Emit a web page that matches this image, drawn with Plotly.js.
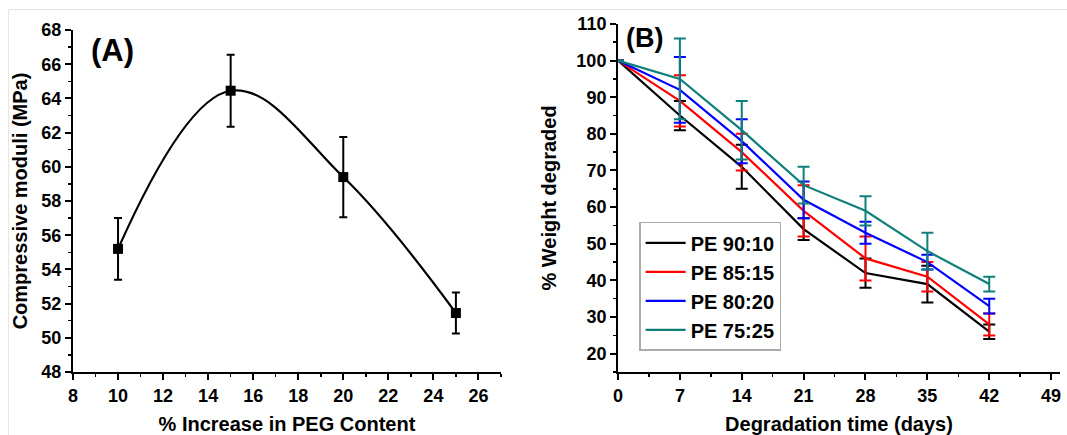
<!DOCTYPE html>
<html><head><meta charset="utf-8">
<script src="https://cdn.plot.ly/plotly-3.0.1.min.js"></script>
<style>html,body{margin:0;padding:0;background:#fff}#c{width:1067px;height:435px}</style>
</head><body><div id="c"></div>
<script>
// Panel A data
const pegContent = [10, 15, 20, 25];
const modulus = [55.2, 64.45, 59.4, 51.45];
const modulusErr = [1.8, 2.1, 2.35, 1.2];

// Panel B data
const days = [0, 7, 14, 21, 28, 35, 42];
const seriesNames = ["PE 90:10", "PE 85:15", "PE 80:20", "PE 75:25"];
const pe9010 = [100, 85, 71, 54, 42, 39, 26];
const pe9010Err = [0, 4, 6, 3, 4, 5, 2];
const pe8515 = [100, 89, 75, 59, 46, 41, 28];
const pe8515Err = [0, 7, 5, 7, 6, 4, 3];
const pe8020 = [100, 92, 78, 62, 53, 45, 33];
const pe8020Err = [0, 9, 6, 5, 3, 2, 2];
const pe7525 = [100, 95, 81, 66, 59, 48, 39];
const pe7525Err = [0, 11, 8, 5, 4, 5, 2];

const seriesColors = ["#000000", "#ff0000", "#0000ff", "#0f7f7a"];
const bValues = [pe9010, pe8515, pe8020, pe7525];
const bErrs = [pe9010Err, pe8515Err, pe8020Err, pe7525Err];

const F = "Liberation Sans, Arial, sans-serif";
const traces = [];
traces.push({
  x: pegContent, y: modulus, type: "scatter", mode: "lines+markers",
  line: {color: "#000", width: 2.2, shape: "spline", smoothing: 1.1},
  marker: {symbol: "square", size: 10, color: "#000"},
  error_y: {type: "data", array: modulusErr, visible: true, color: "#000", thickness: 2, width: 4},
  xaxis: "x", yaxis: "y", showlegend: false
});
for (let i = 0; i < 4; i++) {
  traces.push({
    x: days, y: bValues[i], type: "scatter", mode: "lines", name: seriesNames[i],
    line: {color: seriesColors[i], width: 2.2},
    error_y: {type: "data", array: bErrs[i], visible: true, color: seriesColors[i], thickness: 2, width: 6},
    xaxis: "x2", yaxis: "y2"
  });
}

const tickFont = {family: F, size: 18, color: "#000", weight: "bold"};
const titleFont = {family: F, size: 20, color: "#000", weight: "bold"};
const axBase = {
  showgrid: false, zeroline: false, showline: true, linecolor: "#000", linewidth: 2,
  ticks: "outside", ticklen: 6, tickwidth: 2, tickcolor: "#000", tickfont: tickFont,
  automargin: false, mirror: false
};

const layout = {
  width: 1067, height: 435,
  margin: {l: 0, r: 0, t: 0, b: 0},
  paper_bgcolor: "#fff", plot_bgcolor: "#fff",
  font: {family: F, color: "#000"},
  xaxis: Object.assign({}, axBase, {
    domain: [0.0684, 0.4695], range: [8, 27], tickmode: "array",
    tickvals: [8, 10, 12, 14, 16, 18, 20, 22, 24, 26],
    minor: {dtick: 1, ticklen: 3, tickwidth: 1.5, tickcolor: "#000", ticks: "outside"},
    title: {text: "% Increase in PEG Content", font: titleFont, standoff: 12},
    anchor: "y"
  }),
  yaxis: Object.assign({}, axBase, {
    domain: [0.1448, 0.931], range: [48, 68], dtick: 2,
    minor: {dtick: 1, ticklen: 3, tickwidth: 1.5, tickcolor: "#000", ticks: "outside"},
    title: {text: "Compressive moduli (MPa)", font: titleFont, standoff: 8},
    anchor: "x"
  }),
  xaxis2: Object.assign({}, axBase, {
    domain: [0.5792, 0.9934], range: [0, 50], tickmode: "array",
    tickvals: [0, 7, 14, 21, 28, 35, 42, 49],
    minor: {dtick: 3.5, tick0: 0, ticklen: 3, tickwidth: 1.5, tickcolor: "#000", ticks: "outside"},
    title: {text: "Degradation time (days)", font: titleFont, standoff: 14},
    anchor: "y2"
  }),
  yaxis2: Object.assign({}, axBase, {
    domain: [0.1448, 0.945], range: [15, 110], tickmode: "array",
    tickvals: [20, 30, 40, 50, 60, 70, 80, 90, 100, 110],
    minor: {dtick: 5, tick0: 0, ticklen: 3, tickwidth: 1.5, tickcolor: "#000", ticks: "outside"},
    title: {text: "% Weight degraded", font: titleFont, standoff: 14},
    anchor: "x2"
  }),
  showlegend: true,
  legend: {
    x: 0.599, y: 0.49, xanchor: "left", yanchor: "top",
    bgcolor: "#fff", bordercolor: "#aaa", borderwidth: 1.5,
    font: {family: F, size: 20, color: "#000", weight: "bold"},
    tracegroupgap: 0, itemwidth: 40
  },
  annotations: [
    {text: "(A)", xref: "paper", yref: "paper", x: 0.083, y: 0.885, xanchor: "left", yanchor: "middle",
     showarrow: false, font: {family: F, size: 31, color: "#000", weight: "bold"}},
    {text: "(B)", xref: "paper", yref: "paper", x: 0.585, y: 0.912, xanchor: "left", yanchor: "middle",
     showarrow: false, font: {family: F, size: 27, color: "#000", weight: "bold"}}
  ],
  shapes: [
    {type: "line", xref: "paper", yref: "paper", x0: 0.008, x1: 1, y0: 0.978, y1: 0.978, line: {color: "#e6e6e6", width: 1}},
    {type: "line", xref: "paper", yref: "paper", x0: 0.008, x1: 0.008, y0: 0, y1: 0.978, line: {color: "#e6e6e6", width: 1}}
  ]
};

Plotly.newPlot("c", traces, layout, {displayModeBar: false, staticPlot: true});
</script>
</body></html>
